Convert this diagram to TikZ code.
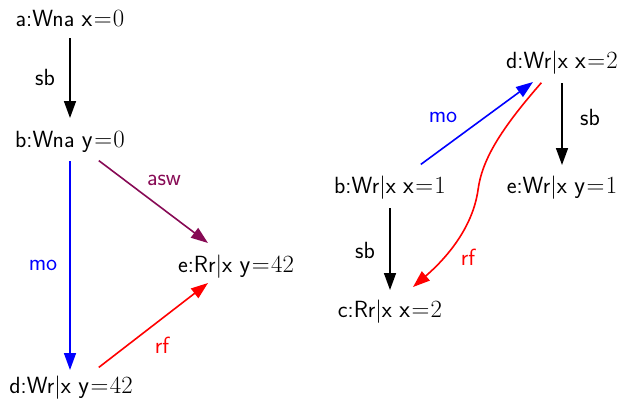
\documentclass[tikz,border=0pt]{standalone}
\usetikzlibrary{arrows.meta}
\definecolor{aswcol}{RGB}{135,10,85}
\newcommand{\evval}[2]{$\mathsf{#1}\mskip1mu{=}\mskip1mu#2$}
\begin{document}
\begin{tikzpicture}[x=1bp,y=-1bp,
  ev/.style={font=\fontsize{23.5}{28}\selectfont\sffamily, inner sep=0pt, anchor=center},
  lbl/.style={font=\fontsize{23.5}{28}\selectfont\sffamily, inner sep=0pt},
  rel/.style={line width=1.6bp, -{Triangle[length=17bp,width=12bp]}, shorten <=1bp},
]
\useasboundingbox (0,0) rectangle (621,410);
% left graph
\node[ev] (la) at (70,18) {a:Wna \evval{x}{0}};
\node[ev] (lb) at (70,142) {b:Wna \evval{y}{0}};
\node[ev] (le) at (236,267) {e:Rr|x \evval{y}{42}};
\node[ev] (ld) at (71,388) {d:Wr|x \evval{y}{42}};
\coordinate (la1) at (70,37);
\coordinate (la2) at (70,118);
\draw[rel] (la1) -- (la2);
\node[lbl] at (45,77) {sb};
\coordinate (lmo1) at (70,160);
\coordinate (lmo2) at (70,370);
\draw[rel,blue] (lmo1) -- (lmo2);
\node[lbl,blue] at (43,265) {mo};
\coordinate (lasw1) at (98,160);
\coordinate (lasw2) at (208,243);
\draw[rel,aswcol] (lasw1) -- (lasw2);
\node[lbl,aswcol] at (164,180) {asw};
\coordinate (lrf1) at (98,368);
\coordinate (lrf2) at (208,283);
\draw[rel,red] (lrf1) -- (lrf2);
\node[lbl,red] at (162,345) {rf};
% right graph
\node[ev] (rd) at (562,63) {d:Wr|x \evval{x}{2}};
\node[ev] (rb) at (390,188) {b:Wr|x \evval{x}{1}};
\node[ev] (re) at (562,188) {e:Wr|x \evval{y}{1}};
\node[ev] (rc) at (390,312) {c:Rr|x \evval{x}{2}};
\coordinate (rmo1) at (420,165);
\coordinate (rmo2) at (533,82);
\draw[rel,blue] (rmo1) -- (rmo2);
\node[lbl,blue] at (443,117) {mo};
\coordinate (rsb1) at (562,82);
\coordinate (rsb2) at (562,165);
\draw[rel] (rsb1) -- (rsb2);
\node[lbl] at (590,117) {sb};
\coordinate (rsb3) at (390,207);
\coordinate (rsb4) at (390,290);
\draw[rel] (rsb3) -- (rsb4);
\node[lbl] at (365,250) {sb};
\coordinate (rrf1) at (542,82);
\coordinate (rrf2) at (413,287);
\draw[rel,red] (rrf1) .. controls (500,130) and (482,160) .. (478,190) .. controls (473,225) and (450,255) .. (rrf2);
\node[lbl,red] at (468,257) {rf};
\end{tikzpicture}
\end{document}
